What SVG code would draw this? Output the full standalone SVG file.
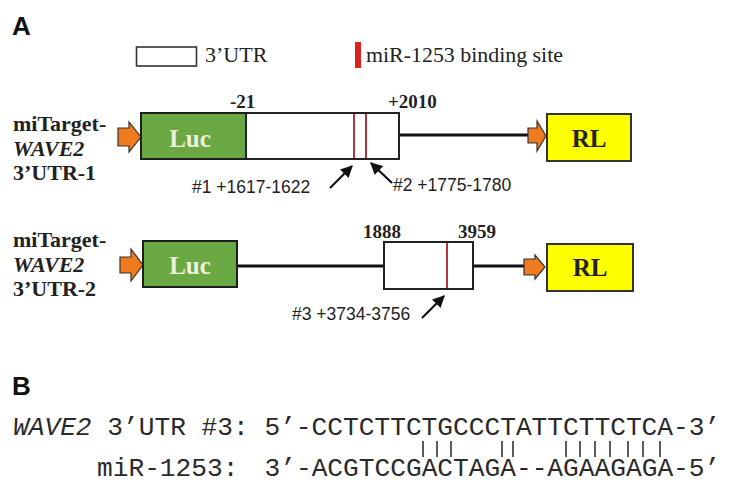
<svg xmlns="http://www.w3.org/2000/svg" width="729" height="485" viewBox="0 0 729 485">
<style>
.panel{font-family:"Liberation Sans",Arial,sans-serif;font-weight:bold;font-size:26px;fill:#111}
.lbl{font-family:"Liberation Serif","Times New Roman",serif;font-weight:bold;font-size:22px;fill:#222}
.num{font-family:"Liberation Serif","Times New Roman",serif;font-weight:bold;font-size:19px;fill:#222}
.leg{font-family:"Liberation Serif","Times New Roman",serif;font-size:22px;fill:#222}
.ann{font-family:"Liberation Sans",Arial,sans-serif;font-size:17.5px;fill:#222}
.luc{fill:#6aa844;stroke:#1e1e1e;stroke-width:2}
.luct{font-family:"Liberation Serif","Times New Roman",serif;font-weight:bold;font-size:25px;fill:#eef2da;text-anchor:middle}
.rl{fill:#ffff00;stroke:#333;stroke-width:2}
.rlt{font-family:"Liberation Serif","Times New Roman",serif;font-weight:bold;font-size:25px;fill:#222;text-anchor:middle}
.utr{fill:#fff;stroke:#222;stroke-width:2}
.site{stroke:#b8343a;stroke-width:2}
.prom{fill:#f07a1e;stroke:#333;stroke-width:1.2;stroke-linejoin:miter}
.wire{stroke:#111;stroke-width:3;fill:none}
.ptr{stroke:#111;stroke-width:2.2;fill:none}
.mono{font-family:"Liberation Mono","Courier New",monospace;font-size:26.2px;fill:#2a2a2a}
.bar{stroke:#333;stroke-width:1.6}
</style>
<defs>
<marker id="ah" viewBox="0 0 10 10" refX="9" refY="5" markerWidth="5.5" markerHeight="5.5" orient="auto" markerUnits="strokeWidth">
<path d="M0,0 L10,5 L0,10 z" fill="#111"/>
</marker>
</defs>

<g id="panelA"><text class="panel" x="12" y="35">A</text></g>
<g id="panelB"><text class="panel" x="12" y="395">B</text></g>

<g id="legend">
<rect x="136.5" y="47" width="60" height="19" fill="#fff" stroke="#333" stroke-width="1.6"/>
<text class="leg" x="205" y="62">3’UTR</text>
<rect x="355" y="42" width="6" height="26" fill="#e0201c"/>
<text class="leg" x="366" y="62" textLength="197" lengthAdjust="spacingAndGlyphs">miR-1253 binding site</text>
</g>

<g id="construct1-label">
<text class="lbl" x="13" y="131">miTarget-</text>
<text class="lbl" x="13" y="156" font-style="italic">WAVE2</text>
<text class="lbl" x="13" y="180">3’UTR-1</text>
</g>

<g id="construct2-label">
<text class="lbl" x="13" y="247">miTarget-</text>
<text class="lbl" x="13" y="272" font-style="italic">WAVE2</text>
<text class="lbl" x="13" y="296">3’UTR-2</text>
</g>

<g id="connectors">
<line class="wire" x1="399" y1="135" x2="528" y2="135"/>
<line class="wire" x1="237" y1="266" x2="384" y2="266"/>
<line class="wire" x1="473" y1="266" x2="524" y2="266"/>
<line class="ptr" x1="330" y1="188" x2="352" y2="166" marker-end="url(#ah)"/>
<line class="ptr" x1="392" y1="183" x2="371" y2="163" marker-end="url(#ah)"/>
<line class="ptr" x1="422" y1="318" x2="444" y2="296" marker-end="url(#ah)"/>
</g>

<g id="promoter1"><polygon class="prom" points="118,128 129,128 129,122 141,137 129,152 129,146 118,146"/></g>
<g id="luc1"><rect class="luc" x="141" y="113" width="105" height="46"/><text class="luct" x="190" y="147">Luc</text></g>
<g id="utr1">
<rect class="utr" x="246" y="113" width="153" height="46"/>
<line class="site" x1="354" y1="114" x2="354" y2="158"/>
<line class="site" x1="366" y1="114" x2="366" y2="158"/>
<text class="num" x="230" y="108">-21</text>
<text class="num" x="388" y="108">+2010</text>
</g>
<g id="site1"><text class="ann" x="192" y="193">#1 +1617-1622</text></g>
<g id="site2"><text class="ann" x="393" y="191">#2 +1775-1780</text></g>
<g id="promoterRL1"><polygon class="prom" points="528,128 537,128 537,121 546,136 537,151 537,143 528,143"/></g>
<g id="rl1"><rect class="rl" x="547" y="114" width="84" height="47"/><text class="rlt" x="589" y="147">RL</text></g>

<g id="promoter2"><polygon class="prom" points="120,257 131,257 131,249 143,265 131,281 131,273 120,273"/></g>
<g id="luc2"><rect class="luc" x="143" y="241" width="94" height="46"/><text class="luct" x="190" y="274">Luc</text></g>
<g id="utr2">
<rect class="utr" x="384" y="242" width="89" height="47"/>
<line class="site" x1="447" y1="243" x2="447" y2="288"/>
<text class="num" x="363" y="238">1888</text>
<text class="num" x="458" y="238">3959</text>
</g>
<g id="site3"><text class="ann" x="292" y="320">#3 +3734-3756</text></g>
<g id="promoterRL2"><polygon class="prom" points="524,259 535,259 535,255 545,267 535,279 535,275 524,275"/></g>
<g id="rl2"><rect class="rl" x="547" y="244" width="86" height="47"/><text class="rlt" x="590" y="276">RL</text></g>

<g id="alignment">
<text class="mono" x="13" y="435" xml:space="preserve"><tspan font-style="italic">WAVE2</tspan> 3’UTR #3: 5’-CCTCTTCTGCCCTATTCTTCTCA-3’</text>
<g id="pairs">
<line class="bar" x1="423" y1="441" x2="423" y2="457"/>
<line class="bar" x1="437" y1="441" x2="437" y2="457"/>
<line class="bar" x1="451" y1="441" x2="451" y2="457"/>
<line class="bar" x1="502" y1="441" x2="502" y2="457"/>
<line class="bar" x1="513" y1="441" x2="513" y2="457"/>
<line class="bar" x1="566" y1="441" x2="566" y2="457"/>
<line class="bar" x1="580" y1="441" x2="580" y2="457"/>
<line class="bar" x1="595" y1="441" x2="595" y2="457"/>
<line class="bar" x1="610" y1="441" x2="610" y2="457"/>
<line class="bar" x1="628" y1="441" x2="628" y2="457"/>
<line class="bar" x1="643" y1="441" x2="643" y2="457"/>
<line class="bar" x1="660" y1="441" x2="660" y2="457"/>
</g>
<text class="mono" y="476"><tspan x="97">miR-1253:</tspan><tspan x="264.5">3’-ACGTCCGACTAGA--AGAAGAGA-5’</tspan></text>
</g>
</svg>
